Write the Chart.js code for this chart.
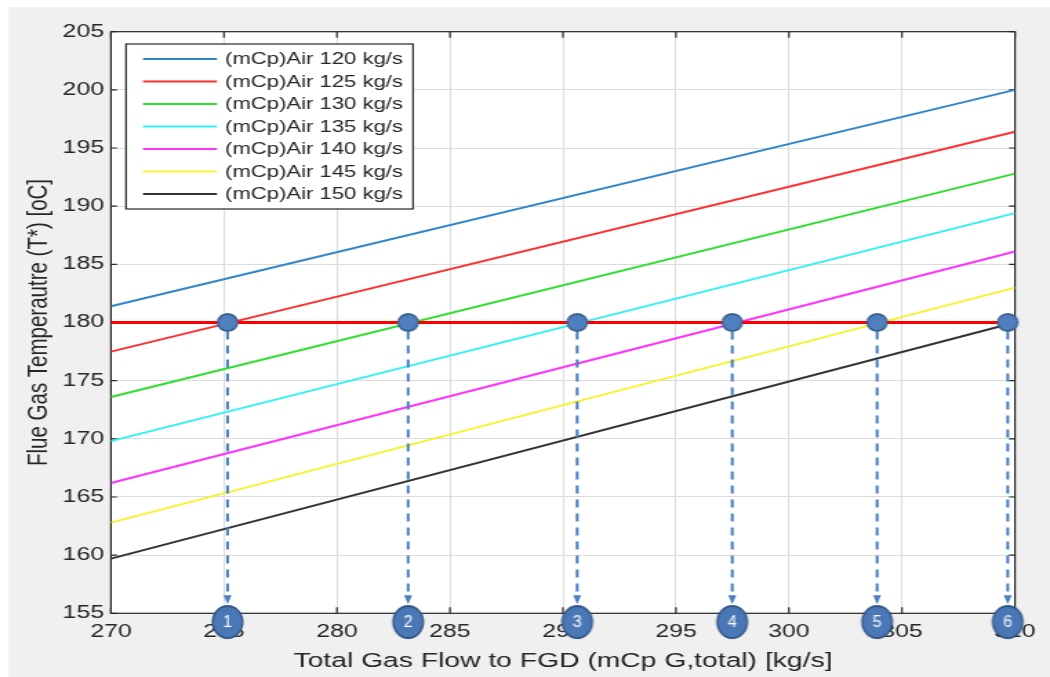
<!DOCTYPE html>
<html>
<head>
<meta charset="utf-8">
<script src="https://cdn.jsdelivr.net/npm/chart.js@4.4.1/dist/chart.umd.min.js"></script>
<style>
  html, body { margin: 0; padding: 0; background: #ffffff; }
  #chart { display: block; }
</style>
</head>
<body>
<canvas id="chart" width="761" height="677" style="width:1050px;height:677px"></canvas>
<script>
// the picture is a MATLAB figure that was stretched sideways,
// so the chart is drawn narrow and css widens it back to 1050px
var STRETCH = 1050 / 761

var gasFlow = [270, 310]
var air120 = [181.4, 200.0]
var air125 = [177.5, 196.4]
var air130 = [173.6, 192.8]
var air135 = [169.8, 189.4]
var air140 = [166.2, 186.1]
var air145 = [162.8, 183.0]
var air150 = [159.7, 180.0]
var airLabels = [
  "(mCp)Air 120 kg/s", "(mCp)Air 125 kg/s", "(mCp)Air 130 kg/s", "(mCp)Air 135 kg/s",
  "(mCp)Air 140 kg/s", "(mCp)Air 145 kg/s", "(mCp)Air 150 kg/s"
]
var lineColours = ["#2f86cc", "#ff3030", "#2ee02e", "#33f2f2", "#ff33ff", "#f4f430", "#333333"]

var limitTemp = [180, 180]
var crossFlow = [275.16, 283.15, 290.63, 297.49, 303.9, 309.68]
var crossTemp = [180, 180, 180, 180, 180, 180]
var badgeTemp = [154.25, 154.25, 154.25, 154.25, 154.25, 154.25]
var badgeText = ["1", "2", "3", "4", "5", "6"]

var xTicks = [270, 275, 280, 285, 290, 295, 300, 305, 310]
var yTicks = [155, 160, 165, 170, 175, 180, 185, 190, 195, 200, 205]

var font = "'Liberation Sans', Arial, sans-serif"
var ink = "#262626"

function pairs(xs, ys) {
  var out = new Array()
  for (var i = 0; i < xs.length; i++) {
    out.push({ x: xs[i], y: ys[i] })
  }
  return out
}

// point images are drawn pre-squeezed so they come out round after the css stretch
function makeDot(w, h, fill, edge, text) {
  var c = document.createElement("canvas")
  c.width = Math.ceil(w / STRETCH) + 2
  c.height = h + 2
  var g = c.getContext("2d")
  g.scale(1 / STRETCH, 1)
  var cx = c.width * STRETCH / 2
  var cy = c.height / 2
  g.beginPath()
  g.ellipse(cx, cy, w / 2 - 1, h / 2 - 1, 0, 0, Math.PI * 2)
  g.fillStyle = fill
  g.fill()
  g.lineWidth = 1.8
  g.strokeStyle = edge
  g.stroke()
  if (text) {
    g.fillStyle = "#ffffff"
    g.font = "16px " + font
    g.textAlign = "center"
    g.textBaseline = "middle"
    g.fillText(text, cx, cy + 1)
  }
  return c
}

var markerDot = makeDot(22, 19, "#4f7fbe", "#3a5f8c")
var badgeDots = badgeText.map(function (t) {
  return makeDot(32, 34, "#4a77b6", "#2f5283", t)
})

var series = [air120, air125, air130, air135, air140, air145, air150]

var datasets = [
  {
    label: "badges",
    data: pairs(crossFlow, badgeTemp),
    pointStyle: badgeDots,
    pointRadius: 18,
    showLine: false,
    clip: false
  },
  {
    label: "crossings",
    data: pairs(crossFlow, crossTemp),
    pointStyle: markerDot,
    pointRadius: 11,
    showLine: false,
    clip: false
  },
  {
    label: "limit",
    data: pairs(gasFlow, limitTemp),
    borderColor: "#ff0000",
    borderWidth: 3,
    pointRadius: 0,
    showLine: true
  }
]

for (var i = 0; i < series.length; i++) {
  datasets.push({
    label: airLabels[i],
    data: pairs(gasFlow, series[i]),
    borderColor: lineColours[i],
    borderWidth: 2,
    pointRadius: 0,
    showLine: true
  })
}

var framePlugin = {
  id: "frame",
  beforeDraw: function (chart) {
    var ctx = chart.ctx
    var a = chart.chartArea
    ctx.save()
    ctx.fillStyle = "#ffffff"
    ctx.fillRect(0, 0, chart.width, chart.height)
    ctx.fillStyle = "#f0f0f0"
    ctx.fillRect(6, 7, chart.width - 6, chart.height - 7)
    ctx.fillStyle = "#ffffff"
    ctx.fillRect(a.left, a.top, a.right - a.left, a.bottom - a.top)
    ctx.restore()
  },
  beforeDatasetsDraw: function (chart) {
    var ctx = chart.ctx
    var a = chart.chartArea
    var xs = chart.scales.x
    var ys = chart.scales.y
    ctx.save()
    ctx.strokeStyle = ink
    ctx.lineWidth = 1.2
    ctx.beginPath()
    xTicks.forEach(function (v) {
      var px = xs.getPixelForValue(v)
      ctx.moveTo(px, a.bottom)
      ctx.lineTo(px, a.bottom - 6)
      ctx.moveTo(px, a.top)
      ctx.lineTo(px, a.top + 6)
    })
    yTicks.forEach(function (v) {
      var py = ys.getPixelForValue(v)
      ctx.moveTo(a.left, py)
      ctx.lineTo(a.left + 6 / STRETCH, py)
      ctx.moveTo(a.right, py)
      ctx.lineTo(a.right - 6 / STRETCH, py)
    })
    ctx.stroke()
    ctx.strokeRect(a.left, a.top, a.right - a.left, a.bottom - a.top)
    ctx.restore()
  },
  afterDatasetDraw: function (chart, args) {
    // dashed arrows go above the lines but under the round markers
    if (args.index !== 2) return
    var ctx = chart.ctx
    var xs = chart.scales.x
    var ys = chart.scales.y
    var top = ys.getPixelForValue(180) + 9
    var tip = ys.getPixelForValue(155) - 9
    ctx.save()
    ctx.strokeStyle = "#4a7fc0"
    ctx.fillStyle = "#4a7fc0"
    ctx.lineWidth = 2.8 / STRETCH
    ctx.setLineDash([8, 6])
    crossFlow.forEach(function (v) {
      var px = xs.getPixelForValue(v)
      ctx.beginPath()
      ctx.moveTo(px, top)
      ctx.lineTo(px, tip - 8)
      ctx.stroke()
      ctx.beginPath()
      ctx.moveTo(px - 4 / STRETCH, tip - 9)
      ctx.lineTo(px + 4 / STRETCH, tip - 9)
      ctx.lineTo(px, tip)
      ctx.closePath()
      ctx.fill()
    })
    ctx.restore()
  },
  afterDatasetsDraw: function (chart) {
    // MATLAB style legend box, top left
    var ctx = chart.ctx
    var left = 126 / STRETCH
    var right = 413 / STRETCH
    ctx.save()
    ctx.fillStyle = "#ffffff"
    ctx.fillRect(left, 44, right - left, 165)
    ctx.strokeStyle = ink
    ctx.lineWidth = 1.2
    ctx.strokeRect(left, 44, right - left, 165)
    ctx.font = "16px " + font
    ctx.textBaseline = "middle"
    for (var i = 0; i < airLabels.length; i++) {
      var y = 59 + i * 22.5
      ctx.strokeStyle = lineColours[i]
      ctx.lineWidth = 2
      ctx.beginPath()
      ctx.moveTo(143 / STRETCH, y)
      ctx.lineTo(217 / STRETCH, y)
      ctx.stroke()
      ctx.fillStyle = ink
      ctx.fillText(airLabels[i], 225 / STRETCH, y + 1)
    }
    ctx.restore()
  }
}

new Chart(document.getElementById("chart"), {
  type: "scatter",
  data: { datasets: datasets },
  plugins: [framePlugin],
  options: {
    responsive: false,
    animation: false,
    devicePixelRatio: 1,
    events: [],
    layout: { padding: { top: 31.7, right: 25.4, left: 0, bottom: 0 } },
    plugins: {
      legend: { display: false },
      tooltip: { enabled: false }
    },
    scales: {
      x: {
        type: "linear",
        min: 270,
        max: 310,
        afterBuildTicks: function (scale) {
          scale.ticks = xTicks.map(function (v) { return { value: v } })
        },
        afterFit: function (scale) { scale.height = 63.7 },
        grid: { color: "#dcdcdc", drawTicks: false },
        border: { display: false },
        ticks: {
          color: ink,
          font: { family: font, size: 18 },
          padding: 8,
          autoSkip: false,
          maxRotation: 0
        },
        title: {
          display: true,
          text: "Total Gas Flow to FGD (mCp G,total) [kg/s]",
          color: ink,
          font: { family: font, size: 20.5 },
          padding: { top: 0, bottom: 3 }
        }
      },
      y: {
        type: "linear",
        min: 155,
        max: 205,
        afterBuildTicks: function (scale) {
          scale.ticks = yTicks.map(function (v) { return { value: v } })
        },
        afterFit: function (scale) { scale.width = 80.4 },
        grid: { color: "#dcdcdc", drawTicks: false },
        border: { display: false },
        ticks: {
          color: ink,
          font: { family: font, size: 18 },
          padding: 5,
          autoSkip: false
        },
        title: {
          display: true,
          text: "Flue Gas Temperautre (T*) [oC]",
          color: ink,
          font: { family: font, size: 20.5 },
          padding: { top: 16, bottom: 0 }
        }
      }
    }
  }
})
</script>
</body>
</html>
